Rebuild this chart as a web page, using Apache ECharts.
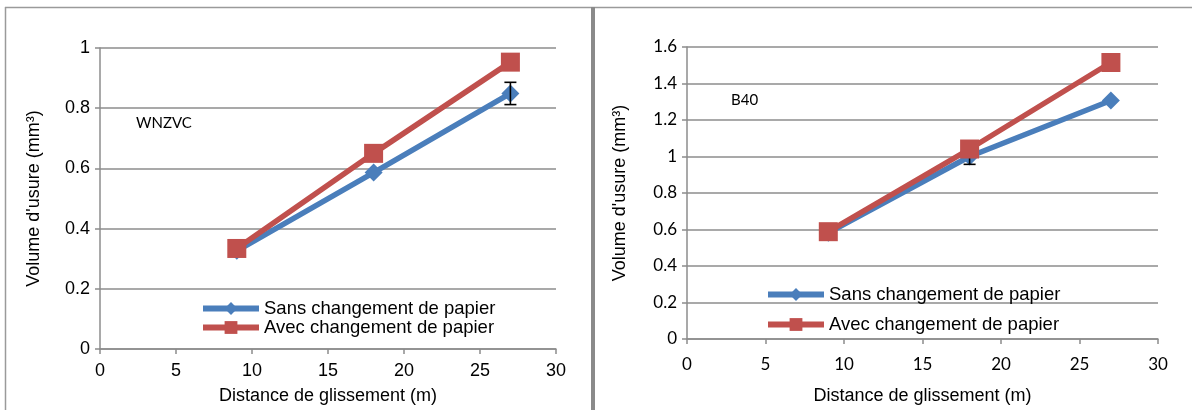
<!DOCTYPE html>
<html>
<head>
<meta charset="utf-8">
<script src="https://cdn.jsdelivr.net/npm/echarts@6/dist/echarts.min.js"></script>
<style>html,body{margin:0;padding:0;background:#fff}#c{width:1192px;height:410px}</style>
</head>
<body>
<div id="c"></div>
<script>
// ---- data ----
const distances = [9, 18, 27];
const seriesNames = ['Sans changement de papier', 'Avec changement de papier'];
// left chart: WNZVC
const wnzvcSans = [0.326, 0.586, 0.849];
const wnzvcAvec = [0.334, 0.650, 0.953];
const wnzvcErrX = [27];
const wnzvcErrLow = [0.812];
const wnzvcErrHigh = [0.886];
// right chart: B40
const b40Sans = [0.582, 1.000, 1.307];
const b40Avec = [0.588, 1.041, 1.515];
const b40ErrX = [18];
const b40ErrLow = [0.957];
const b40ErrHigh = [1.043];
const xTicks = [0, 5, 10, 15, 20, 25, 30];
const leftTitle = 'WNZVC';
const rightTitle = 'B40';
const xName = 'Distance de glissement (m)';
const yName = "Volume d'usure (mm³)";

const BLUE = '#4A7EBB';
const RED = '#C0504D';
const GRID = '#8c8c8c';
const ARIAL = '"Liberation Sans", Arial, sans-serif';
const CAL = 'Lato, "Open Sans", sans-serif';

function pts(xs, ys) { return xs.map((x, i) => [x, ys[i]]); }
function errData(xs, lo, hi) { return xs.map((x, i) => [x, lo[i], hi[i]]); }

function errRender(params, api) {
  const x = api.value(0), lo = api.value(1), hi = api.value(2);
  const a = api.coord([x, hi]), b = api.coord([x, lo]);
  const w = 6;
  const st = { stroke: '#000', lineWidth: 1.6 };
  return { type: 'group', children: [
    { type: 'line', shape: { x1: a[0], y1: a[1], x2: b[0], y2: b[1] }, style: st },
    { type: 'line', shape: { x1: a[0] - w, y1: a[1], x2: a[0] + w, y2: a[1] }, style: st },
    { type: 'line', shape: { x1: b[0] - w, y1: b[1], x2: b[0] + w, y2: b[1] }, style: st }
  ]};
}

function xAxisCfg(gi, font, size, gap, margin) {
  return {
    gridIndex: gi, type: 'value', min: xTicks[0], max: xTicks[xTicks.length - 1], interval: 5,
    name: xName, nameLocation: 'middle', nameGap: gap,
    nameTextStyle: { fontFamily: ARIAL, fontSize: 18, color: '#000' },
    axisLine: { show: true, onZero: false, lineStyle: { color: GRID, width: 1.5 } },
    axisTick: { show: true, length: 5, lineStyle: { color: GRID, width: 1.5 } },
    axisLabel: { fontFamily: font, fontSize: size, color: '#000', margin: margin },
    splitLine: { show: false }
  };
}
function yAxisCfg(gi, max, font, size, gap) {
  return {
    gridIndex: gi, type: 'value', min: 0, max: max, interval: 0.2,
    name: yName, nameLocation: 'middle', nameGap: gap,
    nameTextStyle: { fontFamily: ARIAL, fontSize: 18, color: '#000' },
    axisLine: { show: true, lineStyle: { color: GRID, width: 1.5 } },
    axisTick: { show: true, length: 5, lineStyle: { color: GRID, width: 1.5 } },
    axisLabel: { fontFamily: font, fontSize: size, color: '#000', margin: 10 },
    splitLine: { show: true, lineStyle: { color: GRID, width: 1.5 } }
  };
}
function lineSeries(name, gi, data, color, symbol, size, z) {
  return {
    name: name, type: 'line', xAxisIndex: gi, yAxisIndex: gi, data: data,
    symbol: symbol, symbolSize: size, showSymbol: true,
    lineStyle: { color: color, width: 5.5 }, itemStyle: { color: color },
    z: z, animation: false
  };
}
function legendCfg(left, top, gap) {
  return {
    data: seriesNames.slice(), orient: 'vertical', left: left, top: top, padding: 0, itemGap: gap,
    itemWidth: 56, itemHeight: 16,
    lineStyle: { width: 6 },
    textStyle: { fontFamily: ARIAL, fontSize: 18.5, lineHeight: 18, color: '#000' }
  };
}

const chart = echarts.init(document.getElementById('c'), null, { renderer: 'canvas' });
chart.setOption({
  animation: false,
  backgroundColor: '#fff',
  grid: [
    { left: 100, right: 636, top: 48, bottom: 61 },
    { left: 687, right: 34, top: 47, bottom: 70 }
  ],
  title: [
    { text: leftTitle, left: 136, top: 116, padding: 0, textStyle: { fontFamily: CAL, fontSize: 15, fontWeight: 'normal', color: '#000' } },
    { text: rightTitle, left: 731, top: 93, padding: 0, textStyle: { fontFamily: CAL, fontSize: 15, fontWeight: 'normal', color: '#000' } }
  ],
  legend: [legendCfg(200, 299, 0), legendCfg(765, 285, 11)],
  xAxis: [xAxisCfg(0, ARIAL, 18, 38, 13), xAxisCfg(1, CAL, 17, 48, 17)],
  yAxis: [yAxisCfg(0, 1, ARIAL, 18, 57), yAxisCfg(1, 1.6, CAL, 17, 58)],
  series: [
    lineSeries(seriesNames[0], 0, pts(distances, wnzvcSans), BLUE, 'diamond', 18, 2),
    { type: 'custom', xAxisIndex: 0, yAxisIndex: 0, renderItem: errRender, data: errData(wnzvcErrX, wnzvcErrLow, wnzvcErrHigh), z: 3, silent: true },
    lineSeries(seriesNames[1], 0, pts(distances, wnzvcAvec), RED, 'rect', 19, 4),
    lineSeries(seriesNames[0], 1, pts(distances, b40Sans), BLUE, 'diamond', 18, 2),
    { type: 'custom', xAxisIndex: 1, yAxisIndex: 1, renderItem: errRender, data: errData(b40ErrX, b40ErrLow, b40ErrHigh), z: 3, silent: true },
    lineSeries(seriesNames[1], 1, pts(distances, b40Avec), RED, 'rect', 19, 4)
  ],
  graphic: [
    { type: 'line', shape: { x1: 5, y1: 7.5, x2: 1192, y2: 7.5 }, style: { stroke: '#9a9a9a', lineWidth: 1.5 } },
    { type: 'line', shape: { x1: 5.5, y1: 7, x2: 5.5, y2: 410 }, style: { stroke: '#9a9a9a', lineWidth: 1.5 } },
    { type: 'rect', shape: { x: 591, y: 7, width: 4, height: 403 }, style: { fill: '#8a8a8a' } }
  ]
});
</script>
</body>
</html>
